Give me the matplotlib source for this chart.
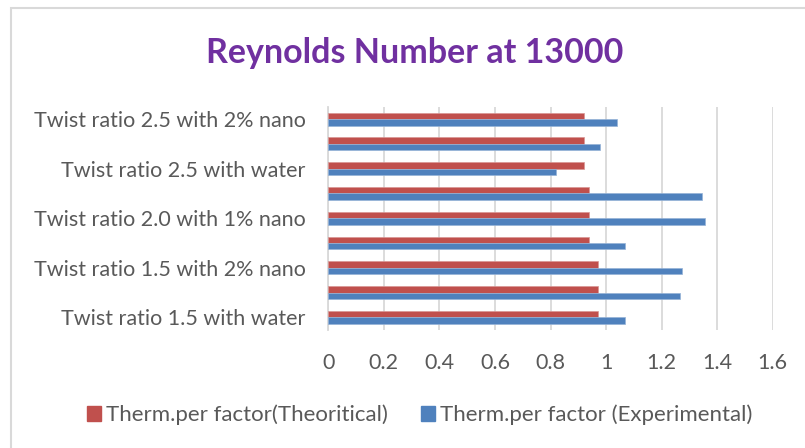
import matplotlib.pyplot as plt
import matplotlib.patches as mpatches
import numpy as np

# categories bottom -> top, as drawn on the chart
categories = [
    'Twist ratio 1.5 with water',
    'Twist ratio 1.5 with 1% nano',
    'Twist ratio 1.5 with 2% nano',
    'Twist ratio 2.0 with water',
    'Twist ratio 2.0 with 1% nano',
    'Twist ratio 2.0 with 2% nano',
    'Twist ratio 2.5 with water',
    'Twist ratio 2.5 with 1% nano',
    'Twist ratio 2.5 with 2% nano',
]
theoretical = [0.97, 0.97, 0.97, 0.94, 0.94, 0.94, 0.92, 0.92, 0.92]
experimental = [1.07, 1.266, 1.274, 1.07, 1.358, 1.344, 0.82, 0.98, 1.04]
x_ticks = [0, 0.2, 0.4, 0.6, 0.8, 1, 1.2, 1.4, 1.6]

RED = '#C0504D'
BLUE = '#4F81BD'
GRID = '#D9D9D9'
TEXT = '#595959'
FONT = 'Lato'

plt.rcParams['font.family'] = [FONT, 'DejaVu Sans']

fig = plt.figure(figsize=(8.05, 4.48), dpi=100)
ax = fig.add_axes([328.3 / 805, 118.3 / 448, 444.4 / 805, 223 / 448])

y = np.arange(len(categories))
bar_h = 0.26
ax.barh(y + bar_h / 2, theoretical, bar_h, color=RED, edgecolor='#D99694', linewidth=0.5, zorder=3)
ax.barh(y - bar_h / 2, experimental, bar_h, color=BLUE, edgecolor='#95B3D7', linewidth=0.5, zorder=3)

ax.set_xlim(0, 1.6)
ax.set_ylim(-0.5, len(categories) - 0.5)
ax.set_xticks(x_ticks)
ax.set_xticklabels([('%g' % v) for v in x_ticks])
# excel only has room for every other category label
ax.set_yticks(y[::2])
ax.set_yticklabels(categories[::2])

ax.grid(axis='x', color=GRID, linewidth=1.3, zorder=0)
for side in ['top', 'right', 'bottom']:
    ax.spines[side].set_visible(False)
ax.spines['left'].set_color(GRID)
ax.spines['left'].set_linewidth(1.3)
ax.tick_params(axis='both', length=0, labelsize=15.5, labelcolor=TEXT)
ax.tick_params(axis='x', pad=17)
ax.tick_params(axis='y', pad=16.5)

fig.text(415 / 805, 1 - 63.3 / 448, 'Reynolds Number at 13000', ha='center', va='baseline',
         fontsize=24.5, fontweight='bold', color='#7030A0')

handles = [mpatches.Patch(color=RED, label='Therm.per factor(Theoritical)'),
           mpatches.Patch(color=BLUE, label='Therm.per factor (Experimental)')]
fig.legend(handles=handles, loc='center', bbox_to_anchor=(420 / 805, 1 - 415 / 448), ncol=2,
           frameon=False, fontsize=16, labelcolor=TEXT, handlelength=0.6, handleheight=0.6,
           handletextpad=0.25, columnspacing=1.5)

# chart area border (left and top visible in the reference)
fig.patches.append(mpatches.Rectangle((11 / 805, -0.1), 1.2, 1 - 8 / 448 + 0.1, transform=fig.transFigure,
                                      fill=False, edgecolor=GRID, linewidth=1.5))

fig.savefig('out.png', dpi=100)
